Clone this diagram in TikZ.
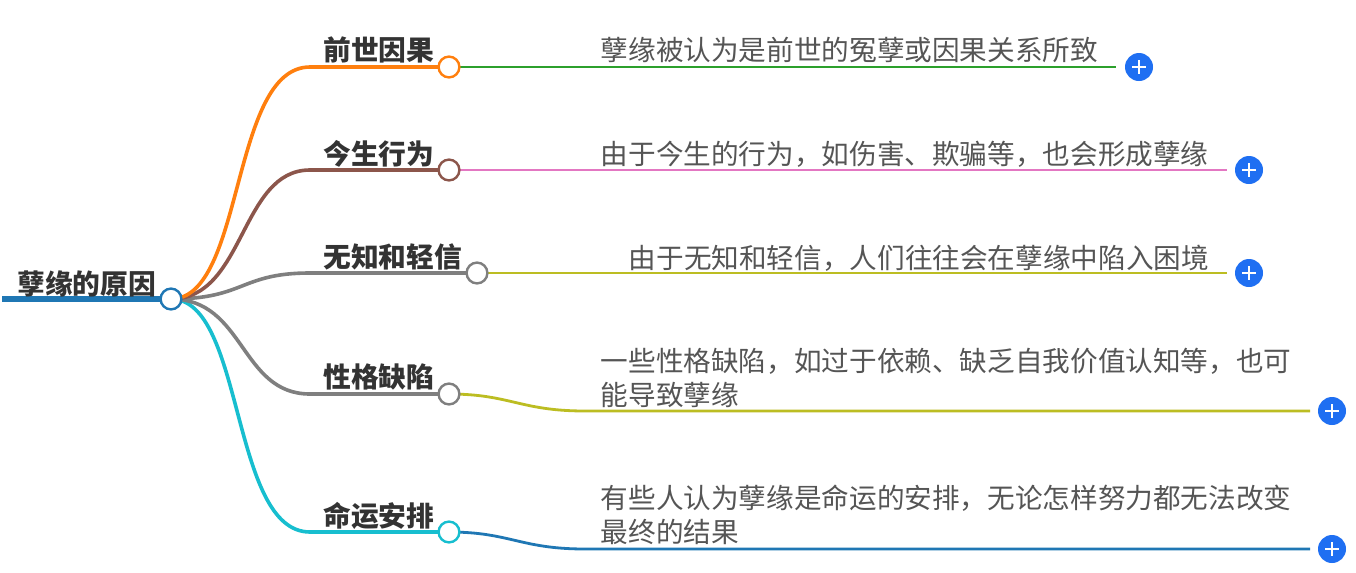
\documentclass[tikz,border=0pt]{standalone}
\usepackage{fontspec}
\setmainfont{Noto Sans CJK SC}
\definecolor{cblue}{HTML}{1F77B4}
\definecolor{corange}{HTML}{FF7F0E}
\definecolor{cgreen}{HTML}{2CA02C}
\definecolor{cbrown}{HTML}{8C564B}
\definecolor{cpink}{HTML}{E377C2}
\definecolor{cgray}{HTML}{7F7F7F}
\definecolor{colive}{HTML}{BCBD22}
\definecolor{ccyan}{HTML}{17BECF}
\definecolor{plusblue}{HTML}{1F6FF2}
\definecolor{ttext}{HTML}{333333}
\definecolor{btext}{HTML}{555555}
\tikzset{
  x=0.75pt,y=-0.75pt,
  headtext/.style={font=\fontsize{20.8pt}{24pt}\selectfont\bfseries,text=ttext,anchor=base west,inner sep=0pt},
  bodytext/.style={font=\fontsize{20.72pt}{25.6pt}\selectfont,text=btext,anchor=north west,inner sep=0pt,align=left},
  dot/.style={circle,draw=#1,fill=white,line width=1.8pt,minimum size=15.6pt,inner sep=0pt},
  branch/.style={line width=2.7pt,draw=#1},
  leaf/.style={line width=2.1pt,draw=#1},
  plus/.style={circle,fill=plusblue,minimum size=21pt,inner sep=0pt},
  plusbar/.style={draw=white,line width=1.5pt}
}
\begin{document}
\begin{tikzpicture}
\useasboundingbox (0,0) rectangle (1356,572);
\fill[white] (0,0) rectangle (1356,572);
% free ends
\coordinate (rs) at (2,299);
\coordinate (j1) at (310,67);
\coordinate (j2) at (310,170);
\coordinate (j3) at (310,273);
\coordinate (j4) at (310,394);
\coordinate (j5) at (310,532);
\coordinate (e1) at (1116,67);
\coordinate (e2) at (1227,170);
\coordinate (e3) at (1227,273);
\coordinate (k4) at (585,411);
\coordinate (e4) at (1310,411);
\coordinate (k5) at (585,549);
\coordinate (e5) at (1310,549);
% nodes positions
\coordinate (rootc) at (171,299);
\coordinate (n1c) at (449,67);
\coordinate (n2c) at (449,170);
\coordinate (n3c) at (477,273);
\coordinate (n4c) at (449,394);
\coordinate (n5c) at (449,532);
% level 2 leaves
\draw[leaf=cgreen] (n1c) -- (e1);
\draw[leaf=cpink] (n2c) -- (e2);
\draw[leaf=colive] (n3c) -- (e3);
\draw[leaf=colive] (n4c) .. controls (510,394) and (520,411) .. (k4) -- (e4);
\draw[leaf=cblue] (n5c) .. controls (510,532) and (520,549) .. (k5) -- (e5);
% level 1 branches
\draw[branch=ccyan] (rootc) .. controls (245,299) and (230,532) .. (j5) -- (n5c);
\draw[branch=cgray] (rootc) .. controls (245,299) and (240,394) .. (j4) -- (n4c);
\draw[branch=cgray] (rootc) .. controls (245,299) and (240,273) .. (j3) -- (n3c);
\draw[branch=cbrown] (rootc) .. controls (245,299) and (240,170) .. (j2) -- (n2c);
\draw[branch=corange] (rootc) .. controls (245,299) and (230,67) .. (j1) -- (n1c);
\draw[line width=4.5pt,draw=cblue] (rs) -- (rootc);
% dots
\node[dot=cblue] (root) at (rootc) {};
\node[dot=corange] (n1) at (n1c) {};
\node[dot=cbrown] (n2) at (n2c) {};
\node[dot=cgray] (n3) at (n3c) {};
\node[dot=cgray] (n4) at (n4c) {};
\node[dot=ccyan] (n5) at (n5c) {};
% labels
\node[headtext] (troot) at (17,294) {孽缘的原因};
\node[headtext] (t1) at (323,60) {前世因果};
\node[headtext] (t2) at (323,164) {今生行为};
\node[headtext] (t3) at (323,267) {无知和轻信};
\node[headtext] (t4) at (323,387) {性格缺陷};
\node[headtext] (t5) at (323,526) {命运安排};
\node[bodytext] (b1) at (600.5,37) {孽缘被认为是前世的冤孽或因果关系所致};
\node[bodytext] (b2) at (600.5,141) {由于今生的行为，如伤害、欺骗等，也会形成孽缘};
\node[bodytext] (b3) at (628.5,245) {由于无知和轻信，人们往往会在孽缘中陷入困境};
\node[bodytext] (b4) at (600.5,348) {一些性格缺陷，如过于依赖、缺乏自我价值认知等，也可\\能导致孽缘};
\node[bodytext] (b5) at (600.5,485) {有些人认为孽缘是命运的安排，无论怎样努力都无法改变\\最终的结果};
% plus buttons
\foreach \n/\px/\py in {p1/1139/67,p2/1249/170,p3/1249/273,p4/1332/411,p5/1332/549}{
  \node[plus] (\n) at (\px,\py) {};
  \draw[plusbar] ([xshift=-5.2pt]\n.center) -- ([xshift=5.2pt]\n.center);
  \draw[plusbar] ([yshift=-5.2pt]\n.center) -- ([yshift=5.2pt]\n.center);
}
\end{tikzpicture}
\end{document}
